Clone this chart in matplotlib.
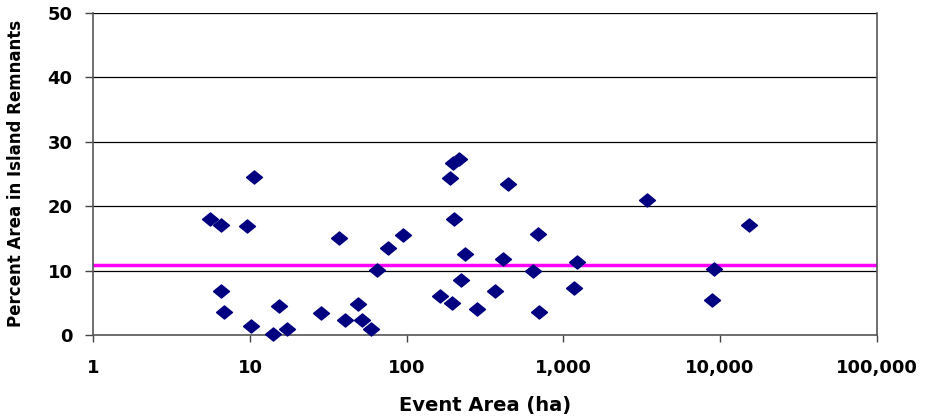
import matplotlib
matplotlib.use("Agg")
import matplotlib.pyplot as plt
from matplotlib.ticker import FixedLocator, NullLocator

event_area = [10.6, 5.56, 6.53, 9.57, 36.8, 76.3, 95.1, 64.9, 6.5, 6.8,
              10.2, 14.1, 15.3, 17.2, 28.4, 40.6, 48.9, 51.6, 59.4,
              216.6, 198.3, 189.7, 441, 3402, 200.4, 685, 234.6, 412, 1227,
              640, 222, 163.8, 194.5, 367, 280, 702, 1174,
              15360, 9185, 8918]
pct_island = [24.5, 18.0, 17.0, 16.9, 15.0, 13.5, 15.5, 10.1, 6.9, 3.6,
              1.4, 0.1, 4.5, 0.9, 3.4, 2.4, 4.8, 2.3, 1.0,
              27.3, 26.7, 24.4, 23.4, 21.0, 18.0, 15.6, 12.5, 11.8, 11.3,
              10.0, 8.5, 6.0, 4.9, 6.8, 4.1, 3.5, 7.3,
              17.0, 10.2, 5.4]
mean_pct = 10.9
x_ticks = [1, 10, 100, 1000, 10000, 100000]
x_labels = ["1", "10", "100", "1,000", "10,000", "100,000"]
y_ticks = [0, 10, 20, 30, 40, 50]

plt.rcParams['font.family'] = ['DejaVu Sans']

fig = plt.figure(figsize=(9.27, 4.18), dpi=100)
ax = fig.add_axes([0.1007, 0.1986, 0.845, 0.771])
ax.set_xscale('log')
ax.set_xlim(1, 100000)
ax.set_ylim(0, 50)

for y in y_ticks[1:]:
    ax.axhline(y, color='black', lw=0.9, zorder=1)

ax.axhline(mean_pct, color='#FF00FF', lw=2.5, zorder=2)

diamond = [(-1, 0), (0, 0.82), (1, 0), (0, -0.82), (-1, 0)]
ax.plot(event_area, pct_island, linestyle='none', marker=diamond,
        markersize=11.5, color='#000080', zorder=3, clip_on=False)

ax.xaxis.set_major_locator(FixedLocator(x_ticks))
ax.xaxis.set_minor_locator(NullLocator())
ax.set_xticklabels(x_labels)
ax.set_yticks(y_ticks)
ax.tick_params(axis='both', direction='out', width=1, color='#444444',
               labelsize=13)
ax.tick_params(axis='x', length=5, pad=12)
ax.tick_params(axis='y', length=6, pad=9)
for lab in ax.get_xticklabels() + ax.get_yticklabels():
    lab.set_fontweight('bold')

for s in ['left', 'bottom', 'right']:
    ax.spines[s].set_color('#555555')
    ax.spines[s].set_linewidth(1.2)
ax.spines['top'].set_visible(False)

ax.set_xlabel('Event Area (ha)', fontsize=14, fontweight='bold', labelpad=14)
ax.set_ylabel('Percent Area in Island Remnants', fontsize=12, fontweight='bold')
ax.yaxis.set_label_coords(-0.087, 0.5)

fig.savefig('out.png', dpi=100)
